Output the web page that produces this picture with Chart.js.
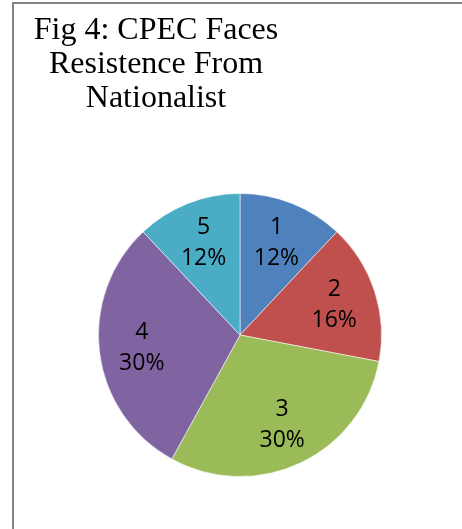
<!DOCTYPE html>
<html>
<head>
<meta charset="utf-8">
<script src="https://cdn.jsdelivr.net/npm/chart.js@4.4.1/dist/chart.umd.min.js"></script>
<style>
  html, body { margin: 0; padding: 0; background: #fff; }
  #wrap { position: relative; width: 462px; height: 529px; }
  #frame {
    position: absolute; left: 12px; top: 2px; width: 460px; height: 540px;
    border-left: 2px solid #858585; border-top: 2px solid #858585;
  }
  canvas { position: absolute; left: 0; top: 0; }
</style>
</head>
<body>
<div id="wrap">
  <div id="frame"></div>
  <canvas id="pieChart" width="462" height="529"></canvas>
</div>
<script>
// Chart data
const titleLines = ['Fig 4: CPEC Faces', 'Resistence From', 'Nationalist'];
const categories = ['1', '2', '3', '4', '5'];
const shares = [12, 16, 30, 30, 12];
const sliceColors = ['#4F81BD', '#C0504D', '#9BBB59', '#8064A2', '#4BACC6'];

/**
 * Draws the multi-line title, centred on its own column
 */
const titlePlugin = {
  id: 'figTitle',
  afterDraw(chart) {
    const ctx = chart.ctx;
    ctx.save();
    ctx.fillStyle = '#000';
    ctx.font = '32px "Liberation Serif", "Times New Roman", serif';
    ctx.textAlign = 'center';
    ctx.textBaseline = 'alphabetic';
    titleLines.forEach((line, i) => {
      ctx.fillText(line, 156, 39 + i * 34);
    });
    ctx.restore();
  }
};

/**
 * Category name and percentage inside each slice
 */
const sliceLabelPlugin = {
  id: 'sliceLabels',
  afterDatasetsDraw(chart) {
    const ctx = chart.ctx;
    const meta = chart.getDatasetMeta(0);
    const total = shares.reduce((a, b) => a + b, 0);
    ctx.save();
    ctx.fillStyle = '#000';
    ctx.font = '23px "Open Sans", "Noto Sans", sans-serif';
    ctx.textAlign = 'center';
    ctx.textBaseline = 'middle';
    meta.data.forEach((arc, i) => {
      const p = arc.getProps(['x', 'y', 'startAngle', 'endAngle', 'outerRadius'], true);
      const mid = (p.startAngle + p.endAngle) / 2;
      const r = p.outerRadius * 0.70;
      const cx = p.x + Math.cos(mid) * r;
      const cy = p.y + Math.sin(mid) * r;
      const pct = Math.round(shares[i] / total * 100) + '%';
      ctx.fillText(categories[i], cx, cy - 15);
      ctx.fillText(pct, cx, cy + 16);
    });
    ctx.restore();
  }
};

const ctx = document.getElementById('pieChart').getContext('2d');
const pieChart = new Chart(ctx, {
  type: 'pie',
  data: {
    labels: categories,
    datasets: [{
      data: shares,
      backgroundColor: sliceColors,
      borderColor: 'rgba(255, 255, 255, 0.55)',
      borderWidth: 1
    }]
  },
  options: {
    responsive: false,
    animation: false,
    layout: {
      padding: { left: 98, right: 80, top: 193, bottom: 52 }
    },
    plugins: {
      legend: { display: false },
      tooltip: { enabled: false },
      title: { display: false }
    }
  },
  plugins: [titlePlugin, sliceLabelPlugin]
});
</script>
</body>
</html>
